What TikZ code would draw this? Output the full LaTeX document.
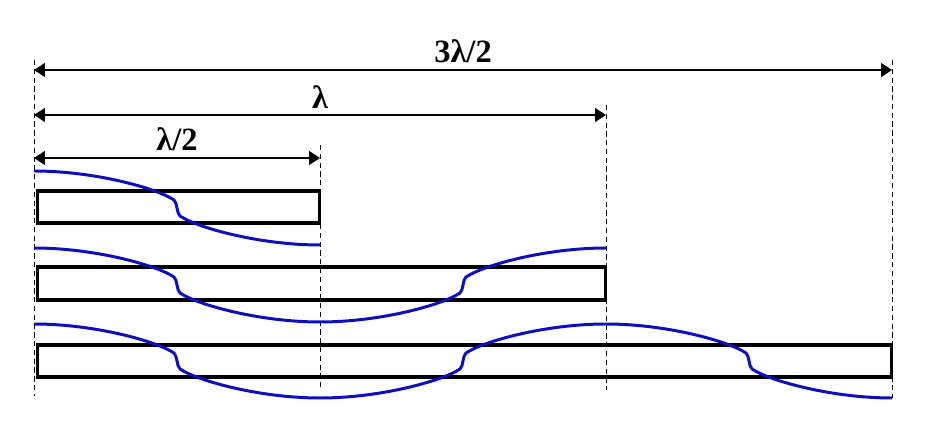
\documentclass[tikz,border=0pt]{standalone}
\usepackage{fontspec}
\setmainfont{Liberation Serif}
\usetikzlibrary{arrows.meta,positioning}
\definecolor{waveblue}{RGB}{14,14,190}

\begin{document}
\begin{tikzpicture}[x=0.02cm, y=-0.02cm,
    rod/.style={draw, rectangle, line width=2pt, minimum height=0.65cm, anchor=west, inner sep=0pt},
    wave/.style={draw=waveblue, line width=1.7pt},
    guide/.style={densely dashed, line width=0.4pt},
    dim/.style={{Triangle[length=0.22cm,width=0.28cm]}-{Triangle[length=0.22cm,width=0.28cm]}, line width=0.7pt},
    len label/.style={font=\fontsize{18.5}{22}\selectfont\bfseries, above, inner sep=3.5pt}]
    \useasboundingbox (0,0) rectangle (925,431);

    % rods
    \node[rod, minimum width=5.65cm] (half) at (35.5,207) {};
    \node[rod, minimum width=11.37cm] (full) at (35.5,283.5) {};
    \node[rod, minimum width=17.09cm] (threehalf) at (35.5,361) {};

    % guide lines
    \coordinate (top0) at (34,60);   \coordinate (bot0) at (34,396);
    \coordinate (top1) at (320,145); \coordinate (bot1) at (320,390);
    \coordinate (top2) at (606,105); \coordinate (bot2) at (606,390);
    \coordinate (top3) at (892,60);  \coordinate (bot3) at (892,398);
    \draw[guide] (top0) -- (bot0);
    \draw[guide] (top1) -- (bot1);
    \draw[guide] (top2) -- (bot2);
    \draw[guide] (top3) -- (bot3);

    % lengths
    \coordinate (d3a) at (34,70);  \coordinate (d3b) at (892,70);
    \coordinate (d2a) at (34,115); \coordinate (d2b) at (606,115);
    \coordinate (d1a) at (34,158); \coordinate (d1b) at (320,158);
    \draw[dim] (d3a) -- (d3b) node[len label, midway] {3λ/2};
    \draw[dim] (d2a) -- (d2b) node[len label, midway] {λ};
    \draw[dim] (d1a) -- (d1b) node[len label, midway] {λ/2};

    % standing waves, one half wavelength at a time
    \foreach \x/\c/\s in {34/208/1, 34/285/1, 320/285/-1, 34/361/1, 320/361/-1, 606/361/1}
        \draw[wave] (\x,{\c-37*\s}) .. controls ({\x+60},{\c-37*\s}) and ({\x+122},{\c-20*\s}) .. ({\x+140},{\c-8*\s})
            .. controls ({\x+143.5},{\c-5*\s}) and ({\x+142.5},{\c+5*\s}) .. ({\x+146},{\c+8*\s})
            .. controls ({\x+164},{\c+20*\s}) and ({\x+226},{\c+37*\s}) .. ({\x+286},{\c+37*\s});

\end{tikzpicture}
\end{document}
